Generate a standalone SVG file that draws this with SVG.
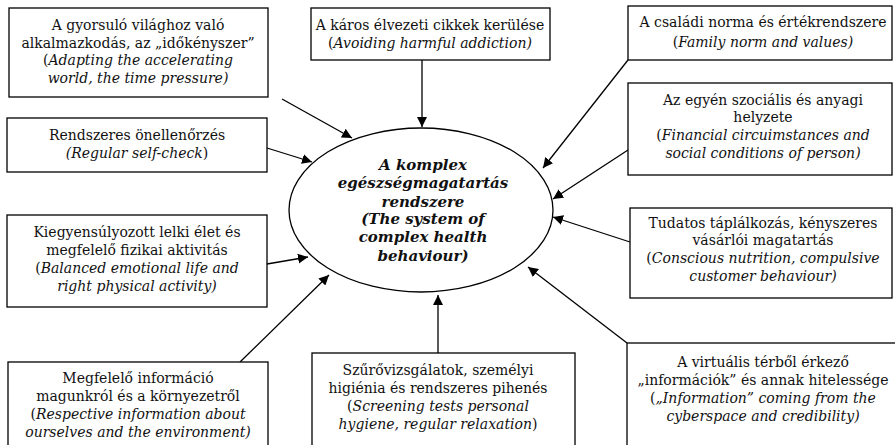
<svg xmlns="http://www.w3.org/2000/svg" width="895" height="445" viewBox="0 0 895 445">
<style>
.box{fill:#fff;stroke:#000;stroke-width:1.3}
.t{font-family:"DejaVu Serif","Liberation Serif",serif;font-size:14px;fill:#111;text-anchor:middle}
.i{font-style:italic}
.c{font-family:"DejaVu Serif","Liberation Serif",serif;font-size:15px;font-weight:bold;font-style:italic;fill:#111;text-anchor:middle}
.ln{stroke:#000;stroke-width:1.3;fill:none;marker-end:url(#ah)}
</style>
<defs>
<marker id="ah" viewBox="0 0 10 10" refX="10" refY="5" markerWidth="10" markerHeight="10" markerUnits="userSpaceOnUse" orient="auto">
<path d="M0,0 L10,5 L0,10 z" fill="#000"/>
</marker>
</defs>
<g id="connectors">
<line class="ln" x1="282" y1="99" x2="352" y2="138"/>
<line class="ln" x1="422" y1="60" x2="422" y2="127"/>
<line class="ln" x1="628" y1="60" x2="543" y2="168"/>
<line class="ln" x1="628" y1="150" x2="553" y2="199"/>
<line class="ln" x1="630" y1="242" x2="553" y2="217"/>
<line class="ln" x1="267" y1="148" x2="312" y2="162"/>
<line class="ln" x1="267" y1="264" x2="308" y2="257"/>
<line class="ln" x1="240" y1="362" x2="329" y2="275"/>
<line class="ln" x1="438" y1="353" x2="438" y2="295"/>
<line class="ln" x1="627" y1="343" x2="528" y2="267"/>
</g>
<g id="center">
<ellipse cx="421" cy="210" rx="132" ry="82" fill="#fff" stroke="#000" stroke-width="1.3"/>
<text class="c" x="423" y="170">A komplex</text>
<text class="c" x="423" y="188">egészségmagatartás</text>
<text class="c" x="423" y="207">rendszere</text>
<text class="c" x="423" y="224">(The system of</text>
<text class="c" x="423" y="242">complex health</text>
<text class="c" x="423" y="261">behaviour)</text>
</g>
<g id="n1">
<rect class="box" x="9" y="8" width="259" height="89"/>
<text class="t" x="138" y="30">A gyorsuló világhoz való</text>
<text class="t" x="138" y="48">alkalmazkodás, az „időkényszer”</text>
<text class="t" x="138" y="65">(<tspan class="i">Adapting the accelerating</tspan></text>
<text class="t i" x="138" y="83">world, the time pressure)</text>
</g>
<g id="n2">
<rect class="box" x="311" y="8" width="239" height="52"/>
<text class="t" x="430" y="30">A káros élvezeti cikkek kerülése</text>
<text class="t" x="430" y="48">(<tspan class="i">Avoiding harmful addiction)</tspan></text>
</g>
<g id="n3">
<rect class="box" x="628" y="6" width="264" height="54"/>
<text class="t" x="763" y="27">A családi norma és értékrendszere</text>
<text class="t" x="763" y="47">(<tspan class="i">Family norm and values)</tspan></text>
</g>
<g id="n4">
<rect class="box" x="628" y="83" width="264" height="92"/>
<text class="t" x="763" y="105">Az egyén szociális és anyagi</text>
<text class="t" x="763" y="122">helyzete</text>
<text class="t" x="763" y="140">(<tspan class="i">Financial circuimstances and</tspan></text>
<text class="t i" x="763" y="158">social conditions of person)</text>
</g>
<g id="n5">
<rect class="box" x="630" y="208" width="262" height="90"/>
<text class="t" x="763" y="228">Tudatos táplálkozás, kényszeres</text>
<text class="t" x="763" y="245">vásárlói magatartás</text>
<text class="t" x="763" y="263">(<tspan class="i">Conscious nutrition, compulsive</tspan></text>
<text class="t i" x="763" y="281">customer behaviour)</text>
</g>
<g id="n6">
<rect class="box" x="7" y="118" width="260" height="54"/>
<text class="t" x="137" y="140">Rendszeres önellenőrzés</text>
<text class="t" x="137" y="158"><tspan class="i">(Regular self-check</tspan>)</text>
</g>
<g id="n7">
<rect class="box" x="7" y="215" width="260" height="92"/>
<text class="t" x="137" y="237">Kiegyensúlyozott lelki élet és</text>
<text class="t" x="137" y="255">megfelelő fizikai aktivitás</text>
<text class="t" x="137" y="273">(<tspan class="i">Balanced emotional life and</tspan></text>
<text class="t i" x="137" y="291">right physical activity)</text>
</g>
<g id="n8">
<rect class="box" x="8" y="362" width="260" height="90"/>
<text class="t" x="138" y="383">Megfelelő információ</text>
<text class="t" x="138" y="401">magunkról és a környezetről</text>
<text class="t" x="138" y="419">(<tspan class="i">Respective information about</tspan></text>
<text class="t i" x="138" y="437">ourselves and the environment)</text>
</g>
<g id="n9">
<rect class="box" x="312" y="353" width="263" height="99"/>
<text class="t" x="438" y="375">Szűrővizsgálatok, személyi</text>
<text class="t" x="438" y="393">higiénia és rendszeres pihenés</text>
<text class="t" x="438" y="411">(<tspan class="i">Screening tests personal</tspan></text>
<text class="t" x="438" y="429"><tspan class="i">hygiene, regular relaxation</tspan>)</text>
</g>
<g id="n10">
<rect class="box" x="627" y="343" width="275" height="109"/>
<text class="t" x="763" y="367">A virtuális térből érkező</text>
<text class="t" x="763" y="385">„információk” és annak hitelessége</text>
<text class="t" x="763" y="403">(<tspan class="i">„Information” coming from the</tspan></text>
<text class="t i" x="763" y="421">cyberspace and credibility)</text>
</g>
</svg>
